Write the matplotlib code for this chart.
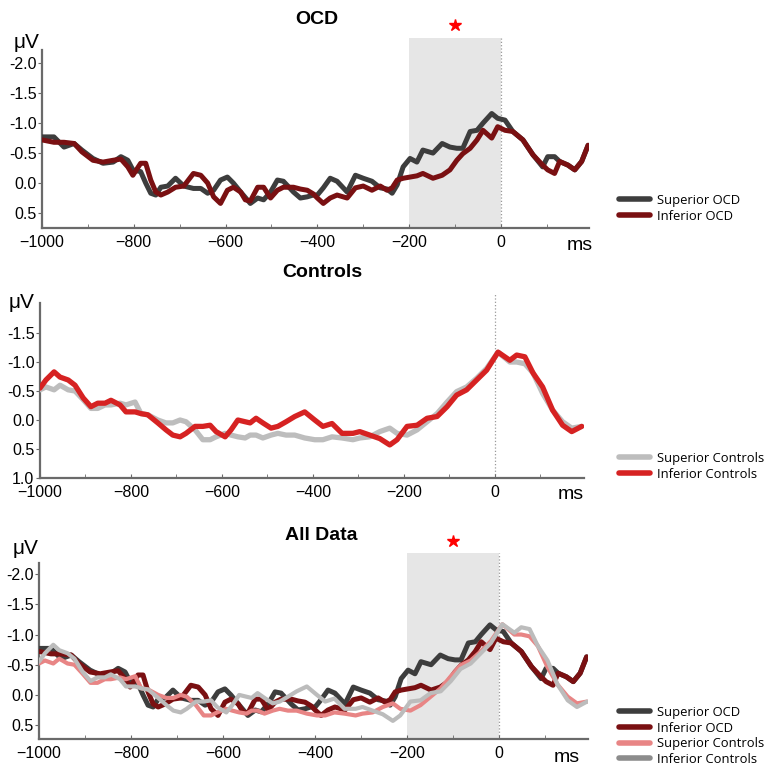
import matplotlib
matplotlib.use('Agg')
import matplotlib.pyplot as plt
from matplotlib.lines import Line2D

plt.rcParams['font.family'] = ['Liberation Sans', 'DejaVu Sans']
plt.rcParams['lines.solid_joinstyle'] = 'round'
plt.rcParams['lines.solid_capstyle'] = 'round'

# ---- data (ms, microvolts; negative is up) ----
t_sup_ocd = [-1000, -974, -952, -930, -913, -889, -867, -845, -828, -813, -802, -785, -774, -763,
             -752, -741, -726, -709, -691, -670, -654, -639, -626, -611, -596, -583, -567, -546,
             -530, -517, -502, -487, -474, -452, -437, -422, -409, -400, -387, -372, -357, -335,
             -317, -300, -281, -263, -248, -237, -226, -213, -198, -183, -170, -148, -128, -111,
             -96, -83, -67, -52, -39, -20, -7, 9, 26, 48, 70, 91, 102, 117, 128, 146, 161, 176, 190]
v_sup_ocd = [-0.77, -0.77, -0.60, -0.66, -0.55, -0.41, -0.33, -0.35, -0.44, -0.38, -0.22, -0.19, 0.00, 0.17,
             0.20, 0.07, 0.05, -0.08, 0.05, 0.09, 0.09, 0.17, 0.12, -0.05, -0.10, 0.00, 0.15, 0.34,
             0.25, 0.28, 0.15, -0.05, -0.03, 0.15, 0.25, 0.23, 0.20, 0.20, 0.08, -0.08, -0.03, 0.15,
             -0.13, -0.08, -0.03, 0.08, 0.10, 0.17, 0.03, -0.27, -0.41, -0.35, -0.55, -0.50, -0.66, -0.60,
             -0.58, -0.58, -0.86, -0.88, -1.00, -1.16, -1.08, -1.05, -0.86, -0.72, -0.47, -0.27, -0.44, -0.44,
             -0.36, -0.30, -0.22, -0.36, -0.63]

t_inf_ocd = [-1000, -974, -952, -930, -913, -889, -867, -845, -828, -813, -802, -785, -774, -763,
             -752, -741, -726, -709, -691, -670, -654, -639, -626, -611, -596, -583, -567, -557,
             -546, -530, -517, -502, -487, -474, -452, -437, -422, -409, -400, -387, -372, -357,
             -335, -317, -300, -281, -263, -248, -237, -226, -213, -198, -183, -170, -148, -128,
             -111, -96, -83, -67, -52, -39, -20, -7, 9, 26, 48, 70, 91, 102, 117, 128, 146, 161, 176, 190]
v_inf_ocd = [-0.72, -0.68, -0.68, -0.66, -0.52, -0.38, -0.35, -0.38, -0.40, -0.27, -0.13, -0.33, -0.33, -0.05,
             0.15, 0.20, 0.15, 0.07, 0.05, -0.16, -0.13, 0.00, 0.23, 0.34, 0.12, 0.07, 0.15, 0.28,
             0.30, 0.07, 0.07, 0.25, 0.12, 0.07, 0.07, 0.10, 0.12, 0.18, 0.25, 0.34, 0.25, 0.20,
             0.25, 0.08, 0.05, 0.12, 0.05, 0.12, 0.08, -0.05, -0.08, -0.10, -0.12, -0.16, -0.08, -0.13,
             -0.22, -0.38, -0.49, -0.58, -0.72, -0.88, -0.75, -0.94, -0.88, -0.86, -0.72, -0.47, -0.30, -0.22,
             -0.16, -0.36, -0.30, -0.22, -0.36, -0.63]

t_ctrl = [-1000, -987, -969, -956, -938, -923, -905, -888, -873, -857, -844, -824, -811, -791, -778,
          -763, -741, -723, -708, -692, -679, -659, -642, -626, -613, -593, -580, -565, -549, -538,
          -525, -510, -492, -477, -459, -440, -418, -396, -378, -358, -336, -312, -297, -275, -253,
          -231, -215, -193, -171, -149, -127, -105, -84, -62, -40, -18, 7, 33, 48, 66, 84, 105,
          127, 149, 169, 191]
v_sup_ctrl = [-0.52, -0.57, -0.52, -0.60, -0.52, -0.50, -0.35, -0.20, -0.20, -0.26, -0.26, -0.29, -0.26, -0.31, -0.11,
              -0.09, 0.00, 0.05, 0.05, 0.00, 0.03, 0.17, 0.34, 0.34, 0.29, 0.23, 0.26, 0.29, 0.31, 0.26,
              0.26, 0.31, 0.26, 0.23, 0.26, 0.26, 0.31, 0.34, 0.34, 0.29, 0.31, 0.34, 0.31, 0.29, 0.20,
              0.14, 0.23, 0.26, 0.17, 0.03, -0.11, -0.31, -0.49, -0.57, -0.72, -0.89, -1.17, -1.00, -1.00, -0.97,
              -0.81, -0.46, -0.17, 0.03, 0.14, 0.11]
v_inf_ctrl = [-0.55, -0.69, -0.83, -0.74, -0.69, -0.60, -0.38, -0.23, -0.29, -0.29, -0.34, -0.26, -0.14, -0.14, -0.11,
              -0.09, 0.05, 0.17, 0.26, 0.29, 0.23, 0.11, 0.11, 0.09, 0.20, 0.29, 0.17, 0.00, 0.03, 0.05,
              -0.03, 0.05, 0.14, 0.11, 0.03, -0.06, -0.14, 0.00, 0.11, 0.06, 0.23, 0.23, 0.20, 0.26, 0.32,
              0.43, 0.34, 0.11, 0.09, -0.03, -0.06, -0.23, -0.43, -0.52, -0.69, -0.86, -1.17, -1.03, -1.12, -1.09,
              -0.81, -0.57, -0.17, 0.09, 0.20, 0.11]

xticks = [-1000, -800, -600, -400, -200, 0]
minor_xticks = [-900, -700, -500, -300, -100, 100]
yticks_ocd = [-2.0, -1.5, -1.0, -0.5, 0.0, 0.5]
yticks_ctrl = [-1.5, -1.0, -0.5, 0.0, 0.5, 1.0]

c_sup_ocd = '#3d3d3d'
c_inf_ocd = '#7a1012'
c_sup_ctrl_mid = '#bdbdbd'
c_inf_ctrl_mid = '#d62222'
c_sup_ctrl_all = '#e88585'
c_inf_ctrl_all = '#bcbcbc'

W, H = 766, 772
fig = plt.figure(figsize=(W / 100, H / 100), dpi=100)


def px_axes(left, right, top, bottom):
    return fig.add_axes([left / W, (H - bottom) / H, (right - left) / W, (bottom - top) / H])


def style(ax, xlim, ylim, ybounds, yticks):
    ax.set_xlim(*xlim)
    ax.set_ylim(*ylim)
    for s in ['top', 'right']:
        ax.spines[s].set_visible(False)
    for s in ['left', 'bottom']:
        ax.spines[s].set_color('#6a6a6a')
        ax.spines[s].set_linewidth(1.6)
    ax.spines['left'].set_bounds(*ybounds)
    ax.set_xticks(xticks)
    ax.set_xticks(minor_xticks, minor=True)
    ax.set_yticks(yticks)
    ax.set_yticklabels(['%.1f' % v for v in yticks])
    ax.tick_params(axis='x', which='both', direction='in', length=3, color='#6a6a6a',
                   labelsize=11.5, pad=5)
    ax.tick_params(axis='y', direction='out', length=3, color='#6a6a6a', labelsize=11.5, pad=1)
    ax.set_facecolor('none')


def leg(handles, labels, x, y):
    fig.legend(handles, labels, loc='upper left', bbox_to_anchor=(x / W, (H - y) / H),
               frameon=False, handlelength=2.4, handletextpad=0.5,
               labelspacing=0.2, borderpad=0, borderaxespad=0,
               prop={'family': ['Open Sans', 'DejaVu Sans'], 'size': 9.4})


# ---- OCD ----
ax1 = px_axes(42, 589, 38, 228)
ax1.axvspan(-200, 0, color='#e6e6e6', lw=0, zorder=0)
ax1.axvline(0, color='#999999', lw=0.9, ls=':', zorder=1)
ax1.plot(t_sup_ocd, v_sup_ocd, color=c_sup_ocd, lw=3.6, zorder=3)
ax1.plot(t_inf_ocd, v_inf_ocd, color=c_inf_ocd, lw=3.6, zorder=4)
ax1.plot([-100], [-2.63], marker='*', color='red', ms=9, clip_on=False, ls='none')
style(ax1, (-1000, 192), (0.75, -2.42), (-2.22, 0.75), yticks_ocd)
fig.text(317 / W, 1 - 19 / H, 'OCD', ha='center', va='center', fontsize=14, fontweight='bold')
fig.text(27 / W, 1 - 43 / H, 'μV', ha='center', va='center', fontsize=15)
fig.text(580 / W, 1 - 246 / H, 'ms', ha='center', va='center', fontsize=14)
leg([Line2D([], [], color=c_sup_ocd, lw=4), Line2D([], [], color=c_inf_ocd, lw=4)],
    ['Superior OCD', 'Inferior OCD'], 619, 194)

# ---- Controls ----
ax2 = px_axes(40, 584, 293, 478)
ax2.axvline(0, color='#999999', lw=0.9, ls=':', zorder=1)
ax2.plot(t_ctrl, v_sup_ctrl, color=c_sup_ctrl_mid, lw=3.8, zorder=3)
ax2.plot(t_ctrl, v_inf_ctrl, color=c_inf_ctrl_mid, lw=3.8, zorder=4)
style(ax2, (-1000, 196), (1.0, -2.19), (-2.02, 1.0), yticks_ctrl)
fig.text(322 / W, 1 - 273 / H, 'Controls', ha='center', va='center', fontsize=14, fontweight='bold')
fig.text(22 / W, 1 - 302 / H, 'μV', ha='center', va='center', fontsize=15)
fig.text(571 / W, 1 - 495 / H, 'ms', ha='center', va='center', fontsize=14)
leg([Line2D([], [], color=c_sup_ctrl_mid, lw=4), Line2D([], [], color=c_inf_ctrl_mid, lw=4)],
    ['Superior Controls', 'Inferior Controls'], 619, 452)

# ---- All Data ----
ax3 = px_axes(39, 588, 553, 739)
ax3.axvspan(-200, 0, color='#e6e6e6', lw=0, zorder=0)
ax3.axvline(0, color='#999999', lw=0.9, ls=':', zorder=1)
ax3.plot(t_sup_ocd, v_sup_ocd, color=c_sup_ocd, lw=3.6, zorder=3)
ax3.plot(t_inf_ocd, v_inf_ocd, color=c_inf_ocd, lw=3.6, zorder=4)
ax3.plot(t_ctrl, v_sup_ctrl, color=c_sup_ctrl_all, lw=3.0, zorder=5)
ax3.plot(t_ctrl, v_inf_ctrl, color=c_inf_ctrl_all, lw=3.0, zorder=6)
ax3.plot([-100], [-2.55], marker='*', color='red', ms=9, clip_on=False, ls='none')
style(ax3, (-1000, 193), (0.73, -2.35), (-2.18, 0.73), yticks_ocd)
fig.text(321 / W, 1 - 535 / H, 'All Data', ha='center', va='center', fontsize=14, fontweight='bold')
fig.text(26 / W, 1 - 549 / H, 'μV', ha='center', va='center', fontsize=15)
fig.text(567 / W, 1 - 757 / H, 'ms', ha='center', va='center', fontsize=14)
leg([Line2D([], [], color=c, lw=4) for c in [c_sup_ocd, c_inf_ocd, c_sup_ctrl_all, '#8c8c8c']],
    ['Superior OCD', 'Inferior OCD', 'Superior Controls', 'Inferior Controls'], 619, 706)

fig.savefig('out.png', dpi=100)
